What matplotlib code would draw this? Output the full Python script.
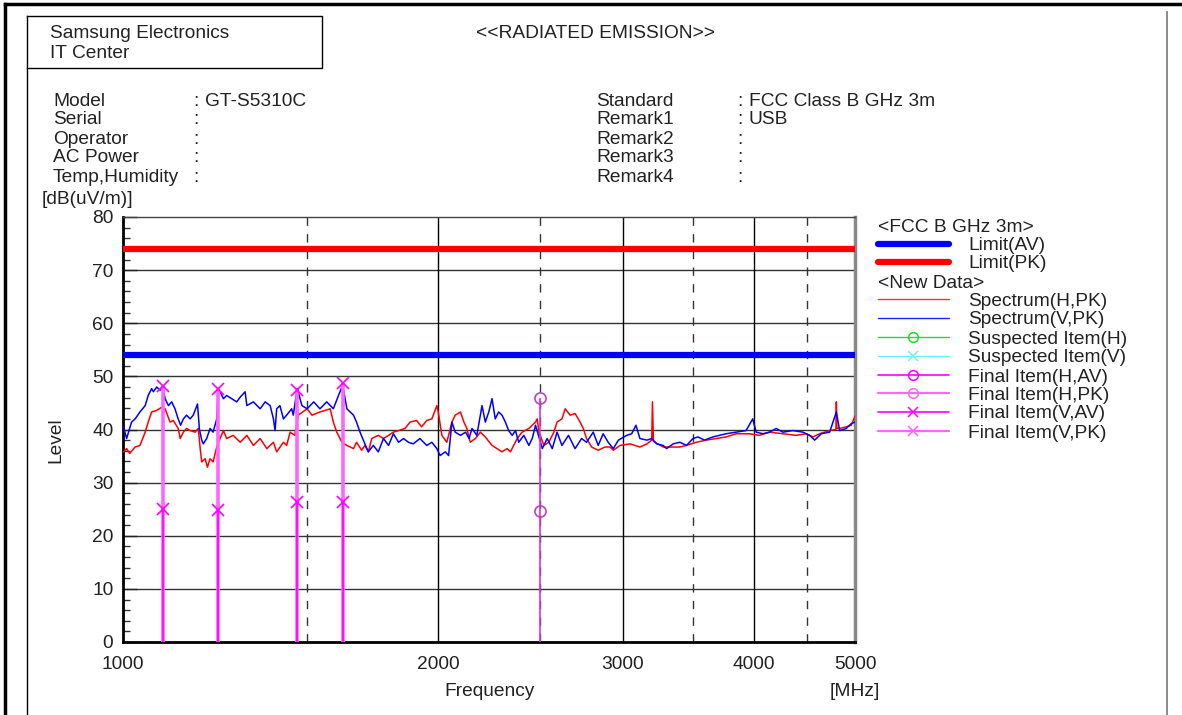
import matplotlib
matplotlib.use("Agg")
import matplotlib.pyplot as plt
from matplotlib.ticker import FixedLocator, NullLocator, MultipleLocator

plt.rcParams['font.family'] = ['Liberation Sans', 'DejaVu Sans']
plt.rcParams['font.size'] = 13.8

# ---- data ----
# spectrum, horizontal polarisation, peak detector
spec_h_freq = [1001, 1008, 1015, 1027, 1038, 1050, 1057, 1065, 1077, 1089, 1097, 1109, 1117,
               1129, 1134, 1142, 1150, 1159, 1172, 1180, 1185, 1189, 1198, 1204, 1211, 1219,
               1230, 1238, 1247, 1256, 1274, 1294, 1313, 1332, 1352, 1372, 1392, 1402, 1423,
               1433, 1444, 1459, 1470, 1499, 1515, 1542, 1577, 1588, 1600, 1618, 1636, 1660,
               1671, 1690, 1702, 1715, 1728, 1753, 1773, 1793, 1812, 1833, 1859, 1880, 1907,
               1928, 1950, 1972, 1994, 2000, 2016, 2038, 2061, 2076, 2100, 2116, 2130, 2146,
               2170, 2194, 2218, 2251, 2276, 2301, 2327, 2344, 2361, 2379, 2405, 2441, 2477,
               2486, 2496, 2523, 2550, 2579, 2597, 2625, 2644, 2673, 2702, 2732, 2751, 2771,
               2802, 2843, 2885, 2918, 2939, 2983, 3049, 3116, 3165, 3198, 3203, 3210, 3221,
               3280, 3402, 3452, 3528, 3605, 3685, 3766, 3850, 3964, 4053, 4143, 4267, 4394,
               4492, 4559, 4626, 4729, 4795, 4799, 4805, 4834, 4905, 4959, 5000]
spec_h_level = [35.8, 36.4, 35.5, 36.7, 37.0, 39.5, 41.4, 43.3, 43.6, 44.2, 43.9, 41.4, 41.7,
                40.2, 38.3, 39.5, 40.2, 39.8, 39.5, 40.2, 36.4, 33.9, 34.5, 32.9, 34.5, 33.9,
                37.0, 38.3, 39.8, 38.3, 38.9, 37.6, 38.9, 37.0, 38.3, 36.4, 37.6, 35.8, 37.6,
                37.0, 39.5, 38.9, 42.7, 43.9, 42.7, 43.3, 43.9, 41.4, 39.5, 37.6, 37.0, 36.4,
                37.6, 36.1, 37.0, 35.8, 38.3, 38.9, 38.3, 38.9, 39.5, 39.8, 40.2, 41.4, 41.7,
                40.5, 41.7, 42.0, 44.5, 43.3, 38.9, 37.6, 41.4, 42.7, 43.3, 41.4, 40.2, 37.6,
                38.3, 39.5, 38.6, 37.0, 36.4, 35.8, 36.4, 35.8, 37.0, 38.3, 39.5, 40.2, 41.4,
                42.0, 39.5, 37.0, 37.6, 39.5, 41.4, 42.0, 43.9, 42.7, 43.0, 41.4, 40.2, 38.3,
                36.7, 36.1, 36.7, 36.7, 36.1, 37.0, 37.3, 36.7, 37.3, 38.0, 45.2, 37.8, 37.6,
                36.7, 36.7, 37.0, 37.6, 38.0, 38.3, 38.6, 39.2, 39.2, 38.9, 39.5, 39.2, 38.9,
                39.2, 38.6, 39.2, 39.8, 40.0, 45.2, 40.2, 40.2, 40.5, 40.8, 42.5]

# spectrum, vertical polarisation, peak detector
spec_v_freq = [1001, 1008, 1019, 1027, 1038, 1050, 1057, 1065, 1069, 1077, 1085, 1091, 1097,
               1105, 1113, 1121, 1129, 1135, 1142, 1150, 1159, 1167, 1178, 1183, 1189, 1193,
               1202, 1211, 1219, 1229, 1233, 1238, 1247, 1256, 1270, 1284, 1294, 1308, 1313,
               1332, 1352, 1367, 1382, 1392, 1397, 1402, 1412, 1423, 1433, 1449, 1454, 1467,
               1482, 1499, 1521, 1542, 1565, 1588, 1606, 1621, 1636, 1660, 1671, 1684, 1702,
               1715, 1734, 1753, 1773, 1793, 1812, 1833, 1853, 1873, 1893, 1921, 1950, 1972,
               1994, 2008, 2031, 2046, 2061, 2076, 2100, 2124, 2140, 2154, 2177, 2202, 2218,
               2235, 2251, 2267, 2284, 2301, 2318, 2335, 2353, 2370, 2387, 2414, 2441, 2459,
               2477, 2514, 2541, 2570, 2597, 2625, 2663, 2702, 2741, 2771, 2812, 2843, 2874,
               2906, 2939, 2972, 3027, 3060, 3089, 3116, 3165, 3198, 3233, 3280, 3304, 3353,
               3402, 3452, 3502, 3540, 3592, 3658, 3712, 3766, 3850, 3935, 3993, 4024, 4083,
               4143, 4205, 4267, 4362, 4459, 4525, 4576, 4643, 4729, 4799, 4834, 4905, 4959,
               5000]
spec_v_level = [40.5, 38.3, 41.4, 42.0, 43.3, 44.5, 46.4, 47.7, 47.1, 48.0, 47.4, 48.0, 45.8,
                44.5, 45.2, 43.9, 42.0, 40.8, 42.0, 42.7, 42.0, 42.7, 44.8, 40.0, 38.0, 37.3,
                38.3, 40.2, 39.5, 42.0, 47.7, 47.1, 45.8, 46.4, 45.8, 45.2, 46.1, 47.1, 44.5,
                45.2, 43.9, 45.2, 44.5, 42.0, 39.8, 43.9, 44.5, 42.0, 42.7, 43.9, 42.7, 47.7,
                44.5, 43.9, 45.2, 43.9, 45.2, 43.9, 46.4, 48.3, 43.9, 42.7, 41.4, 39.5, 37.3,
                35.8, 37.0, 35.8, 38.3, 37.0, 39.2, 37.6, 38.3, 37.6, 37.3, 38.3, 37.0, 37.6,
                36.4, 35.1, 35.8, 35.1, 41.4, 39.5, 38.9, 39.5, 38.3, 40.2, 38.9, 44.5, 41.4,
                43.3, 45.8, 42.0, 43.3, 42.7, 41.4, 39.8, 38.9, 39.8, 37.6, 38.9, 37.0, 38.3,
                40.8, 36.4, 38.3, 36.4, 39.5, 37.0, 38.9, 36.4, 38.3, 37.6, 39.5, 37.0, 39.2,
                37.6, 36.4, 38.0, 38.9, 39.2, 40.8, 38.3, 38.0, 38.3, 37.3, 37.0, 36.4, 37.3,
                37.6, 37.0, 38.3, 38.6, 38.0, 38.6, 38.9, 39.2, 39.5, 39.8, 42.0, 39.5, 39.2,
                39.5, 40.2, 39.5, 39.8, 39.5, 38.9, 38.0, 39.2, 39.5, 43.3, 39.8, 40.2, 41.1,
                41.4]

limit_av = 54.0
limit_pk = 74.0

final_v_freq = [1092, 1232, 1466, 1622]
final_v_pk = [48.2, 47.6, 47.4, 48.7]
final_v_av = [25.0, 24.9, 26.4, 26.4]
final_h_freq = [2501]
final_h_pk = [46.0]
final_h_av = [24.6]

x_ticks = [1000, 2000, 3000, 4000, 5000]
x_solid_grid = [2000, 3000, 4000]
x_dashed_grid = [1500, 2500, 3500, 4500]

info_left = [("Model", "GT-S5310C"), ("Serial", ""), ("Operator", ""),
             ("AC Power", ""), ("Temp,Humidity", "")]
info_right = [("Standard", "FCC Class B GHz 3m"), ("Remark1", "USB"), ("Remark2", ""),
              ("Remark3", ""), ("Remark4", "")]

MAG = '#ff00ff'
MAG_L = '#ff66ff'

W, H = 1182, 715
fig = plt.figure(figsize=(W / 100, H / 100), dpi=100)

# background layer in pixel coordinates for frame, header and legend
bg = fig.add_axes([0, 0, 1, 1], zorder=0)
bg.set_xlim(0, W)
bg.set_ylim(H, 0)
bg.axis('off')

bg.plot([5, W], [4, 4], color='black', lw=2.5)
bg.plot([5, 5], [4, H], color='black', lw=2.5)
bg.plot([27, 27], [16, H], color='black', lw=1)
bg.plot([1167, 1167], [12, H], color='#777777', lw=1.2)
bg.plot([27, 322, 322, 27], [16, 16, 68, 68], color='black', lw=1)

tc = '#222222'
dy = 2  # text baseline nudge
bg.text(50, 32 + dy, "Samsung Electronics", ha='left', va='center', color=tc)
bg.text(50, 51 + dy, "IT Center", ha='left', va='center', color=tc)
bg.text(595, 32 + dy, "<<RADIATED EMISSION>>", ha='center', va='center', color=tc)

rows_y = [100, 118, 137, 156, 175]
for (lab, val), yy in zip(info_left, rows_y):
    bg.text(53, yy + dy, lab, ha='left', va='center', color=tc)
    bg.text(193, yy + dy, ":", ha='left', va='center', color=tc)
    if val:
        bg.text(205, yy + dy, val, ha='left', va='center', color=tc)
for (lab, val), yy in zip(info_right, rows_y):
    bg.text(596, yy + dy, lab, ha='left', va='center', color=tc)
    bg.text(737, yy + dy, ":", ha='left', va='center', color=tc)
    if val:
        bg.text(749, yy + dy, val, ha='left', va='center', color=tc)

bg.text(42, 197 + dy, "[dB(uV/m)]", ha='left', va='center', color=tc)
bg.text(56, 440, "Level", ha='center', va='center', rotation=90, color=tc)
bg.text(490, 689 + dy, "Frequency", ha='center', va='center', color=tc)
bg.text(855, 689 + dy, "[MHz]", ha='center', va='center', color=tc)

# legend
leg_y = [226, 244, 262, 281, 299, 318, 337, 356, 375, 393, 412, 431]
bg.text(878, leg_y[0] + dy, "<FCC B GHz 3m>", ha='left', va='center', color=tc)
bg.text(878, leg_y[3] + dy, "<New Data>", ha='left', va='center', color=tc)
legend_items = [
    (1, "Limit(AV)", 'blue', 4.5, None),
    (2, "Limit(PK)", 'red', 4.5, None),
    (4, "Spectrum(H,PK)", '#ff3333', 1.0, None),
    (5, "Spectrum(V,PK)", '#2222ff', 1.0, None),
    (6, "Suspected Item(H)", '#22dd22', 1.0, 'o'),
    (7, "Suspected Item(V)", '#77eeee', 1.0, 'x'),
    (8, "Final Item(H,AV)", MAG, 1.2, 'o'),
    (9, "Final Item(H,PK)", MAG_L, 1.6, 'o'),
    (10, "Final Item(V,AV)", MAG, 1.2, 'x'),
    (11, "Final Item(V,PK)", MAG_L, 1.6, 'x'),
]
for idx, lab, col, lw, mk in legend_items:
    yy = leg_y[idx]
    bg.plot([878, 949], [yy, yy], color=col, lw=lw, solid_capstyle='round')
    if mk:
        bg.plot([913], [yy], marker=mk, ms=7, mfc='none', mec=col, mew=1.1)
    bg.text(968, yy + dy, lab, ha='left', va='center', color=tc)

# ---- main chart ----
x0, x1, y0, y1 = 123, 855, 217, 642
ax = fig.add_axes([x0 / W, 1 - y1 / H, (x1 - x0) / W, (y1 - y0) / H], zorder=1)
ax.set_xscale('log')
ax.set_xlim(1000, 5000)
ax.set_ylim(0, 80)

ax.xaxis.set_major_locator(FixedLocator(x_ticks))
ax.xaxis.set_minor_locator(NullLocator())
ax.set_xticklabels([str(v) for v in x_ticks])
ax.tick_params(axis='x', length=0, pad=10, colors=tc)
ax.yaxis.set_major_locator(MultipleLocator(10))
ax.yaxis.set_minor_locator(MultipleLocator(2))
ax.tick_params(axis='y', which='major', direction='in', length=10, width=1, pad=7, colors=tc)
ax.tick_params(axis='y', which='minor', direction='in', length=5, width=1, color='#333333')

for yv in range(10, 80, 10):
    ax.axhline(yv, color='#333333', lw=1, zorder=1)
for xv in x_solid_grid:
    ax.axvline(xv, color='black', lw=1, zorder=1)
for xv in x_dashed_grid:
    ax.axvline(xv, color='#333333', lw=1, dashes=(6, 6), zorder=1)

for side in ('left', 'bottom'):
    ax.spines[side].set_linewidth(2)
    ax.spines[side].set_color('black')
ax.spines['top'].set_linewidth(1)
ax.spines['top'].set_color('#444444')
ax.spines['right'].set_linewidth(2.5)
ax.spines['right'].set_color('#888888')

ax.axhline(limit_pk, color='red', lw=4.5, zorder=3)
ax.axhline(limit_av, color='blue', lw=4.5, zorder=3)

ax.plot(spec_h_freq, spec_h_level, color='red', lw=1.1, zorder=4)
ax.plot(spec_v_freq, spec_v_level, color='blue', lw=1.1, zorder=5)

ax.vlines(final_v_freq, 0, final_v_pk, color=MAG_L, lw=2.6, zorder=6)
ax.vlines(final_v_freq, 0, final_v_av, color=MAG, lw=1.2, zorder=6)
ax.plot(final_v_freq, final_v_pk, 'x', ms=9, mew=1.2, color=MAG, zorder=7)
ax.plot(final_v_freq, final_v_av, 'x', ms=9, mew=1.2, color=MAG, zorder=7)

ax.vlines(final_h_freq, 0, final_h_pk, color='#dd33dd', lw=1.2, zorder=6)
ax.plot(final_h_freq, final_h_pk, 'o', ms=8, mfc='none', mew=1.2, mec='#bb44bb', zorder=7)
ax.plot(final_h_freq, final_h_av, 'o', ms=8, mfc='none', mew=1.2, mec='#bb44bb', zorder=7)

fig.savefig("out.png", dpi=100)
